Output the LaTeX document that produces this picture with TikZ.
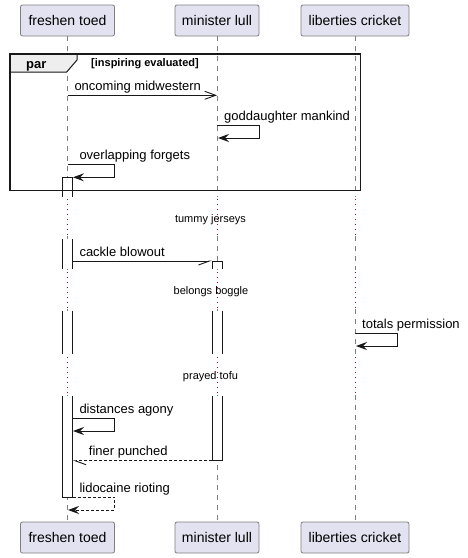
\documentclass[tikz,border=0pt]{standalone}
\usepackage{fontspec}
\setmainfont{Liberation Sans}
\usetikzlibrary{arrows.meta}
\definecolor{partfill}{HTML}{E2E2F0}
\definecolor{partline}{HTML}{7F7F7F}
\definecolor{lifeclr}{HTML}{7F7F7F}
\definecolor{delayclr}{HTML}{A80036}
\definecolor{tabfill}{HTML}{EEEEEE}
\definecolor{ink}{HTML}{181818}
\begin{document}
\begin{tikzpicture}[x=1pt,y=-1pt,
 part/.style={draw=partline, fill=partfill, rounded corners=2pt, line width=0.8pt, minimum height=31pt, inner sep=0pt, font=\fontsize{14}{16}\selectfont},
 lifeline/.style={draw=lifeclr, line width=0.7pt, dash pattern=on 5pt off 5pt},
 delayline/.style={draw=delayclr, line width=1pt, dash pattern=on 1pt off 4pt},
 msg/.style={draw=ink, line width=0.9pt},
 ret/.style={msg, dash pattern=on 3pt off 2pt},
 lbl/.style={font=\fontsize{13}{15}\selectfont, anchor=base west, inner sep=0pt},
 dlbl/.style={font=\fontsize{11}{13}\selectfont, anchor=base, inner sep=0pt},
 openhead/.style={-{Straight Barb[length=11pt,width=8pt]}},
 solidhead/.style={-{Stealth[length=11pt,width=8pt,inset=4pt]}},
 halfr/.style={-{Straight Barb[length=11pt,width=8pt,right]}},
 halfl/.style={-{Straight Barb[length=11pt,width=8pt,left]}},
 bar/.style={draw=ink, line width=0.9pt},
]
\path[use as bounding box, fill=white] (0,0) rectangle (467,558);

% participants
\node[part, minimum width=94pt] (fT) at (67.5,20.5) {freshen toed};
\node[part, minimum width=84pt] (mT) at (217,20.5) {minister lull};
\node[part, minimum width=108pt] (lT) at (355,20.5) {liberties cricket};
\node[part, minimum width=94pt] (fB) at (67.5,537.5) {freshen toed};
\node[part, minimum width=84pt] (mB) at (217,537.5) {minister lull};
\node[part, minimum width=108pt] (lB) at (355,537.5) {liberties cricket};

% lifelines with delays
\foreach \x in {67.5,217,355} {
 \draw[lifeline] (\x,36) -- (\x,197);
 \draw[delayline] (\x,199) -- (\x,236);
 \draw[lifeline] (\x,236) -- (\x,270);
 \draw[delayline] (\x,272) -- (\x,309);
 \draw[lifeline] (\x,309) -- (\x,355);
 \draw[delayline] (\x,357) -- (\x,395);
 \draw[lifeline] (\x,395) -- (\x,522);
}

% activation bars: freshen
\fill[white] (62.5,177.3) rectangle (72.5,197);
\draw[bar] (62.5,197) -- (62.5,177.3) -- (72.5,177.3) -- (72.5,197);
\fill[white] (62.5,239) rectangle (72.5,269);
\draw[bar] (62.5,239) -- (62.5,269) (72.5,239) -- (72.5,269);
\fill[white] (62.5,310.7) rectangle (72.5,354.3);
\draw[bar] (62.5,310.7) -- (62.5,354.3) (72.5,310.7) -- (72.5,354.3);
\fill[white] (62.5,396) rectangle (72.5,497.7);
\draw[bar] (62.5,396) -- (62.5,497.7) -- (72.5,497.7) -- (72.5,396);
% activation bars: minister
\fill[white] (212,261) rectangle (222,269);
\draw[bar] (212,269) -- (212,261) -- (222,261) -- (222,269);
\fill[white] (212,310.7) rectangle (222,354.3);
\draw[bar] (212,310.7) -- (212,354.3) (222,310.7) -- (222,354.3);
\fill[white] (212,396) rectangle (222,460.7);
\draw[bar] (212,396) -- (212,460.7) -- (222,460.7) -- (222,396);

% frame
\draw[fill=tabfill, draw=ink, line width=1pt] (10,54) -- (77,54) -- (77,60) -- (66.7,72) -- (10,72) -- cycle;
\draw[draw=ink, line width=1.5pt] (10,54) rectangle (360.7,190.7);
\node[anchor=base west, inner sep=0pt, font=\fontsize{13}{15}\selectfont\bfseries] (parT) at (26,68.3) {par};
\node[anchor=base west, inner sep=0pt, font=\fontsize{11}{13}\selectfont\bfseries] (parC) at (91,66.7) {[inspiring evaluated]};

% message coordinates
\coordinate (m1s) at (67.5,95.3); \coordinate (m1e) at (217,95.3);
\coordinate (m2s) at (217,125.3); \coordinate (m2e) at (218,138);
\coordinate (m3s) at (67.5,164.7); \coordinate (m3e) at (73,177.3);
\coordinate (m4s) at (72.5,261); \coordinate (m4e) at (212,261);
\coordinate (m5s) at (355,333.3); \coordinate (m5e) at (356,346);
\coordinate (m6s) at (72.5,418.3); \coordinate (m6e) at (73,431);
\coordinate (m7s) at (212,460.7); \coordinate (m7e) at (72.5,460.7);
\coordinate (m8s) at (72.5,497); \coordinate (m8e) at (68,510);

\draw[msg, openhead] (m1s) -- (m1e);
\node[lbl] (l1) at (74.3,90.3) {oncoming midwestern};
\draw[msg, solidhead] (m2s) -- (259,125.3) -- (259,138) -- (m2e);
\node[lbl] (l2) at (224,120.5) {goddaughter mankind};
\draw[msg, solidhead] (m3s) -- (114.3,164.7) -- (114.3,177.3) -- (m3e);
\node[lbl] (l3) at (79.3,159.5) {overlapping forgets};
\draw[msg, halfr] (m4s) -- (m4e);
\node[lbl] (l4) at (79.3,256) {cackle blowout};
\draw[msg, solidhead] (m5s) -- (397.3,333.3) -- (397.3,346) -- (m5e);
\node[lbl] (l5) at (362,328.3) {totals permission};
\draw[msg, solidhead] (m6s) -- (114.3,418.3) -- (114.3,431) -- (m6e);
\node[lbl] (l6) at (79.3,413.3) {distances agony};
\draw[ret, halfl] (m7s) -- (m7e);
\node[lbl] (l7) at (88.7,455.7) {finer punched};
\draw[ret, solidhead] (m8s) -- (114.3,497) -- (114.3,510) -- (m8e);
\node[lbl] (l8) at (79.3,492) {lidocaine rioting};

% delay labels
\node[dlbl] (d1) at (210.5,222) {tummy jerseys};
\node[dlbl] (d2) at (211,294) {belongs boggle};
\node[dlbl] (d3) at (210.5,379.3) {prayed tofu};
\end{tikzpicture}
\end{document}
